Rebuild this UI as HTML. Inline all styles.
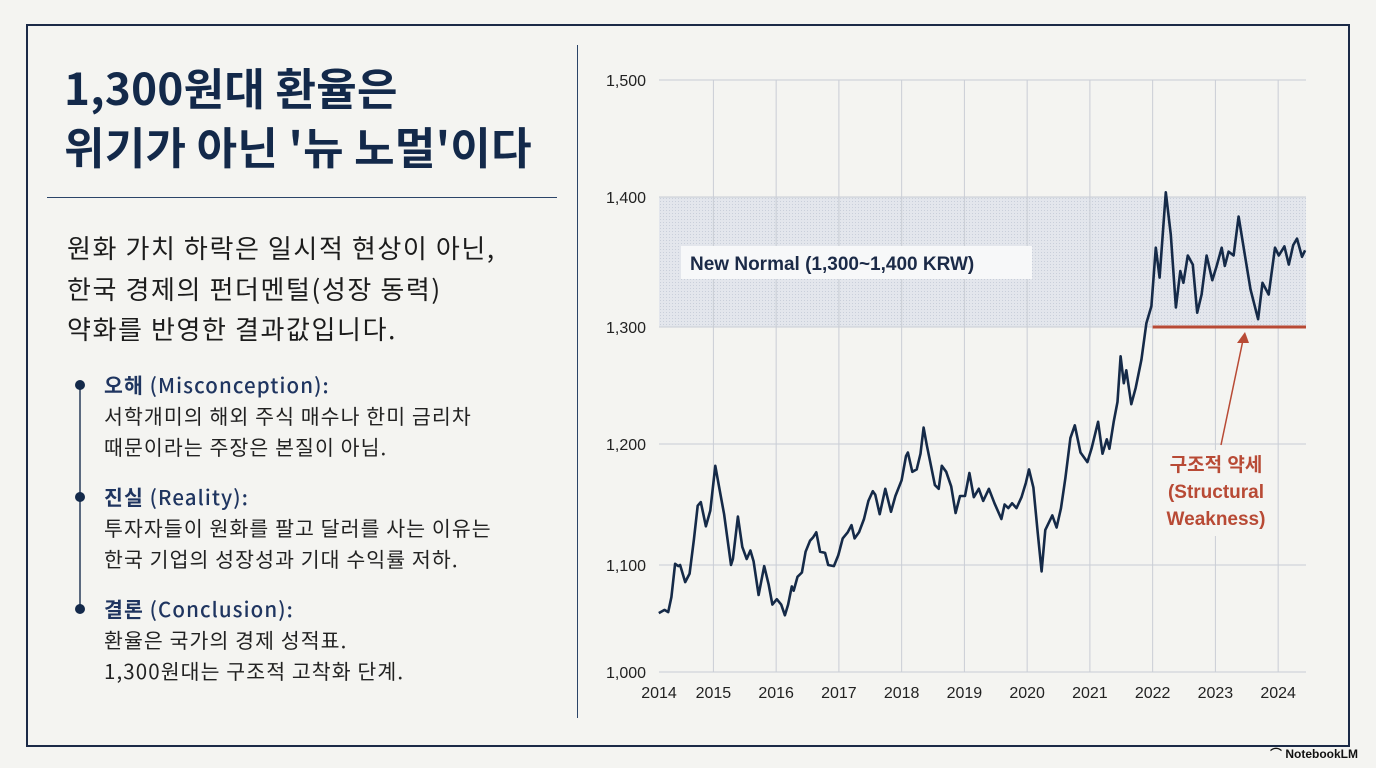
<!DOCTYPE html>
<html><head><meta charset="utf-8">
<style>
html,body{margin:0;padding:0;width:1376px;height:768px;background:#f4f4f1;overflow:hidden;font-family:"Liberation Sans","Noto Sans CJK KR",sans-serif;}
.abs{position:absolute;white-space:nowrap;}
#frame{position:absolute;left:26px;top:24px;width:1320px;height:719px;border:2px solid #1b2a47;box-sizing:content-box;}
.title{font-family:"Noto Sans CJK KR",sans-serif;font-weight:700;font-size:44px;color:#13294a;line-height:59px;left:64px;top:57px;letter-spacing:0.3px;}
.lead{font-family:"Noto Sans CJK KR",sans-serif;font-size:26px;letter-spacing:1.6px;color:#1c1c1c;line-height:40.5px;left:67px;top:228px;}
.item{left:104px;font-family:"Noto Sans CJK KR",sans-serif;font-size:20.5px;letter-spacing:1.1px;line-height:31px;color:#222;}
.item b{color:#1f3560;font-weight:700;}
.item span.h{color:#1f3560;font-weight:500;}
.dot{position:absolute;width:10px;height:10px;border-radius:50%;background:#13294a;left:75px;}
</style></head><body>
<div id="frame"></div>
<div class="abs title">1,300원대 환율은<br>위기가 아닌 '뉴 노멀'이다</div>
<div class="abs" style="left:47px;top:197px;width:510px;height:1px;background:#2b4468"></div>
<div class="abs lead">원화 가치 하락은 일시적 현상이 아닌,<br>한국 경제의 펀더멘털(성장 동력)<br>약화를 반영한 결과값입니다.</div>
<div class="abs" style="left:79px;top:385px;width:2px;height:224px;background:#5b6a80"></div>
<div class="dot" style="top:380px"></div>
<div class="dot" style="top:492px"></div>
<div class="dot" style="top:604px"></div>
<div class="abs item" style="top:369px"><b>오해</b> <span class="h">(Misconception):</span><br>서학개미의 해외 주식 매수나 한미 금리차<br>때문이라는 주장은 본질이 아님.</div>
<div class="abs item" style="top:481px"><b>진실</b> <span class="h">(Reality):</span><br>투자자들이 원화를 팔고 달러를 사는 이유는<br>한국 기업의 성장성과 기대 수익률 저하.</div>
<div class="abs item" style="top:593px"><b>결론</b> <span class="h">(Conclusion):</span><br>환율은 국가의 경제 성적표.<br>1,300원대는 구조적 고착화 단계.</div>
<div class="abs" style="left:577px;top:45px;width:1px;height:673px;background:#2b4468"></div>
<div class="abs" style="left:1270px;top:745px;font-size:12px;color:#111;font-weight:700">⌒ NotebookLM</div>

<svg id="chart" class="abs" style="left:0;top:0" width="1376" height="768">
<defs><pattern id="dots" width="3" height="3" patternUnits="userSpaceOnUse"><rect width="3" height="3" fill="#e3e6ec"/><rect width="1" height="1" fill="#c9cfda"/></pattern></defs>
</svg>
<script>
var yearTicks=[2015,2016,2017,2018,2019,2020,2021,2022,2023,2024];
var xLabels=["2014","2015","2016","2017","2018","2019","2020","2021","2022","2023","2024"];
var yTicks=[1000,1100,1200,1300,1400,1500];
var yTickLabels=["1,000","1,100","1,200","1,300","1,400","1,500"];
var bandRange=[1300,1400];
var years=[2014.13,2014.22,2014.28,2014.33,2014.39,2014.44,2014.47,2014.55,2014.62,2014.69,2014.75,2014.80,2014.88,2014.95,2015.03,2015.09,2015.17,2015.28,2015.31,2015.39,2015.46,2015.53,2015.59,2015.64,2015.72,2015.81,2015.88,2015.94,2016.01,2016.08,2016.14,2016.19,2016.25,2016.28,2016.34,2016.41,2016.47,2016.54,2016.59,2016.64,2016.70,2016.78,2016.83,2016.92,2016.99,2017.06,2017.14,2017.20,2017.25,2017.32,2017.40,2017.47,2017.54,2017.58,2017.65,2017.74,2017.83,2017.90,2018.00,2018.07,2018.10,2018.17,2018.24,2018.30,2018.35,2018.40,2018.46,2018.53,2018.59,2018.64,2018.71,2018.79,2018.86,2018.93,2019.01,2019.08,2019.15,2019.23,2019.30,2019.39,2019.48,2019.59,2019.64,2019.70,2019.76,2019.83,2019.91,2019.98,2020.03,2020.10,2020.17,2020.23,2020.29,2020.40,2020.47,2020.54,2020.61,2020.69,2020.76,2020.85,2020.96,2021.03,2021.13,2021.20,2021.27,2021.31,2021.38,2021.44,2021.49,2021.54,2021.58,2021.66,2021.73,2021.82,2021.90,2021.98,2022.05,2022.11,2022.21,2022.29,2022.37,2022.44,2022.49,2022.56,2022.64,2022.71,2022.78,2022.86,2022.95,2023.02,2023.10,2023.15,2023.21,2023.29,2023.37,2023.46,2023.56,2023.68,2023.75,2023.85,2023.95,2024.01,2024.10,2024.17,2024.24,2024.30,2024.38,2024.43];
var rates=[1055,1058,1056,1070,1101,1099,1100,1084,1092,1121,1149,1152,1132,1145,1182,1165,1142,1100,1105,1140,1115,1105,1112,1103,1072,1099,1082,1063,1068,1063,1053,1063,1080,1076,1089,1093,1111,1120,1123,1127,1111,1110,1100,1099,1108,1122,1127,1133,1122,1127,1138,1153,1161,1158,1142,1163,1144,1157,1170,1190,1193,1177,1179,1192,1214,1199,1184,1166,1163,1182,1177,1165,1143,1157,1157,1176,1156,1163,1153,1163,1151,1138,1150,1147,1151,1147,1156,1168,1179,1164,1126,1094,1129,1141,1131,1147,1172,1205,1216,1193,1185,1197,1219,1192,1204,1196,1219,1236,1275,1252,1263,1234,1248,1272,1303,1316,1361,1338,1404,1371,1315,1343,1334,1355,1348,1311,1325,1355,1336,1347,1361,1347,1358,1355,1385,1358,1329,1306,1334,1325,1361,1355,1362,1348,1363,1368,1354,1359];
var supportLevel=1300;

var NS="http://www.w3.org/2000/svg";
var svg=document.getElementById('chart');
var X0=659,X1=1306,x2015=713.4,stepX=62.75;
function xs(y){return x2015+(y-2015)*stepX;}
var tickPx=[672,565,444,327,197,80];
function ys(v){
  for(var i=0;i<yTicks.length-1;i++){
    if(v<=yTicks[i+1]||i==yTicks.length-2){
      var t=(v-yTicks[i])/(yTicks[i+1]-yTicks[i]);
      return tickPx[i]+t*(tickPx[i+1]-tickPx[i]);
    }
  }
}
function mk(tag,attrs,name){var e=document.createElementNS(NS,tag);for(var k in attrs)e.setAttribute(k,attrs[k]);


svg.appendChild(e);return e;}
var b=mk('rect',{x:X0,y:ys(bandRange[1]),width:X1-X0,height:ys(bandRange[0])-ys(bandRange[1]),fill:'url(#dots)'},'new-normal-band');
yearTicks.forEach(function(yr){mk('line',{x1:xs(yr),x2:xs(yr),y1:ys(1500),y2:ys(1000),stroke:'#c9cdd5','stroke-width':1},'x-gridline-'+yr);});
yTicks.forEach(function(v,i){mk('line',{x1:X0,x2:X1,y1:ys(v),y2:ys(v),stroke:'#c9cdd5','stroke-width':1},'y-gridline-'+v);
 var t=mk('text',{x:606,y:ys(v)+6,'font-size':16,fill:'#222','font-family':'Liberation Sans, sans-serif'},'y-tick-label');t.textContent=yTickLabels[i];});
xLabels.forEach(function(l,i){var xp=i==0?X0:xs(+l);var t=mk('text',{x:xp,y:698,'font-size':16,fill:'#222','text-anchor':'middle','font-family':'Liberation Sans, sans-serif'},'x-tick-label');t.textContent=l;});
mk('rect',{x:681,y:246,width:351,height:33,fill:'#f7f8f9'},'band-label-bg');
var bl=mk('text',{x:690,y:270,'font-size':19,'font-weight':'bold',fill:'#1b2a47','font-family':'Liberation Sans, sans-serif'},'band-label');bl.textContent='New Normal (1,300~1,400 KRW)';
mk('line',{x1:xs(2022),x2:X1,y1:ys(supportLevel),y2:ys(supportLevel),stroke:'#b84a35','stroke-width':3},'structural-support-line');
var d=years.map(function(y,i){return (i?'L':'M')+xs(y).toFixed(1)+','+ys(rates[i]).toFixed(1);}).join(' ');
mk('path',{d:d,fill:'none',stroke:'#152a48','stroke-width':2.6,'stroke-linejoin':'round'},'krw-usd-line');
mk('line',{x1:1221,x2:1243,y1:445,y2:340,stroke:'#b84a35','stroke-width':1.5},'annotation-arrow');
mk('polygon',{points:'1237,343 1249,343 1245,332',fill:'#b84a35'},'annotation-arrowhead');
mk('rect',{x:1155,y:450,width:122,height:86,fill:'#f4f4f1'},'annotation-bg');
['구조적 약세','(Structural','Weakness)'].forEach(function(s,i){var t=mk('text',{x:1216,y:471+i*27,'font-size':19,'font-weight':'bold',fill:'#b84a35','text-anchor':'middle','font-family':'Liberation Sans, Noto Sans CJK KR, sans-serif'},'annotation-text');t.textContent=s;});
</script>
</body></html>
